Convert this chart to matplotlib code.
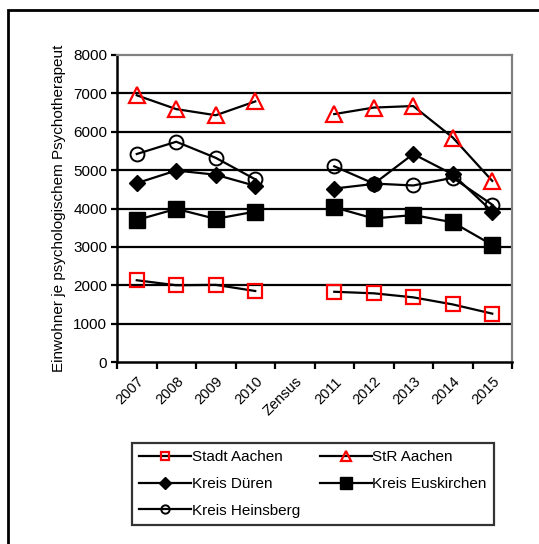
import numpy as np
import matplotlib.pyplot as plt
from matplotlib.lines import Line2D
from matplotlib.patches import Rectangle

plt.rcParams['font.family'] = ['Liberation Sans', 'DejaVu Sans']

# data
kategorien = ['2007', '2008', '2009', '2010', 'Zensus', '2011', '2012', '2013', '2014', '2015']
stadt_aachen = [2130, 2000, 2010, 1850, np.nan, 1830, 1790, 1685, 1500, 1260]
str_aachen = [6950, 6590, 6430, 6790, np.nan, 6460, 6630, 6670, 5850, 4720]
kreis_dueren = [4660, 4990, 4880, 4590, np.nan, 4520, 4640, 5420, 4890, 3920]
kreis_euskirchen = [3700, 3990, 3730, 3920, np.nan, 4030, 3740, 3830, 3640, 3050]
kreis_heinsberg = [5420, 5740, 5320, 4760, np.nan, 5100, 4650, 4600, 4800, 4100]

fig = plt.figure(figsize=(5.39, 5.44), dpi=100)
ax = fig.add_axes([117/539, 1-362/544, 395/539, 307/544])

x = np.arange(len(kategorien))
lw = 1.6

ax.plot(x, stadt_aachen, color='black', lw=lw, marker='s', ms=10, mfc='none', mec='red', mew=1.6, zorder=3)
ax.plot(x, str_aachen, color='black', lw=lw, marker='^', ms=11, mfc='none', mec='red', mew=1.6, zorder=3)
ax.plot(x, kreis_dueren, color='black', lw=lw, marker='D', ms=8, mfc='black', mec='black', zorder=3)
ax.plot(x, kreis_euskirchen, color='black', lw=lw, marker='s', ms=11, mfc='black', mec='black', zorder=3)
ax.plot(x, kreis_heinsberg, color='black', lw=lw, marker='o', ms=10, mfc='none', mec='black', mew=1.4, zorder=3)

ax.set_xlim(-0.5, 9.5)
ax.set_ylim(0, 8000)
ax.set_yticks(range(0, 8001, 1000))
for y in range(1000, 8000, 1000):
    ax.axhline(y, color='black', lw=1.6, zorder=1)

ax.set_xticks(np.arange(-0.5, 10, 1))
ax.set_xticklabels([])
ax.set_xticks(x, minor=True)
ax.set_xticklabels(kategorien, minor=True, rotation=45, ha='right', rotation_mode='anchor', fontsize=10.5)
ax.tick_params(axis='x', which='minor', length=0, pad=9)
ax.tick_params(axis='x', which='major', length=5, width=1.6, direction='out')
ax.tick_params(axis='y', length=4, width=1.6, labelsize=11, pad=3)

for s in ['left', 'bottom']:
    ax.spines[s].set_linewidth(1.8)
    ax.spines[s].set_color('black')
for s in ['top', 'right']:
    ax.spines[s].set_linewidth(1.6)
    ax.spines[s].set_color('#808080')

ax.set_ylabel('Einwohner je psychologischem Psychotherapeut', fontsize=11, labelpad=5)

# legend with small markers (column-major order to give row-major look)
h_stadt = Line2D([], [], color='black', lw=lw, marker='s', ms=6, mfc='none', mec='red', mew=1.6)
h_str = Line2D([], [], color='black', lw=lw, marker='^', ms=7, mfc='none', mec='red', mew=1.6)
h_dueren = Line2D([], [], color='black', lw=lw, marker='D', ms=6, mfc='black', mec='black')
h_eusk = Line2D([], [], color='black', lw=lw, marker='s', ms=9, mfc='black', mec='black')
h_heins = Line2D([], [], color='black', lw=lw, marker='o', ms=6, mfc='none', mec='black', mew=1.4)
handles = [h_stadt, h_dueren, h_heins, h_str, h_eusk]
labels = ['Stadt Aachen', 'Kreis Düren', 'Kreis Heinsberg', 'StR Aachen', 'Kreis Euskirchen']
leg = fig.legend(handles, labels, ncol=2, loc='upper left', bbox_to_anchor=(132/539, 1-443/544),
                 fontsize=11, frameon=True, fancybox=False, handlelength=3.4, handletextpad=0.05,
                 columnspacing=1.3, labelspacing=0.85, borderpad=0.45, borderaxespad=0)
leg.get_frame().set_edgecolor('black')
leg.get_frame().set_linewidth(1.6)

# outer frame
fig.patches.append(Rectangle((8/539, -0.1), 1.2, 1-10/544+0.1, transform=fig.transFigure,
                             fill=False, edgecolor='black', lw=2))

fig.savefig('out.png', dpi=100)
